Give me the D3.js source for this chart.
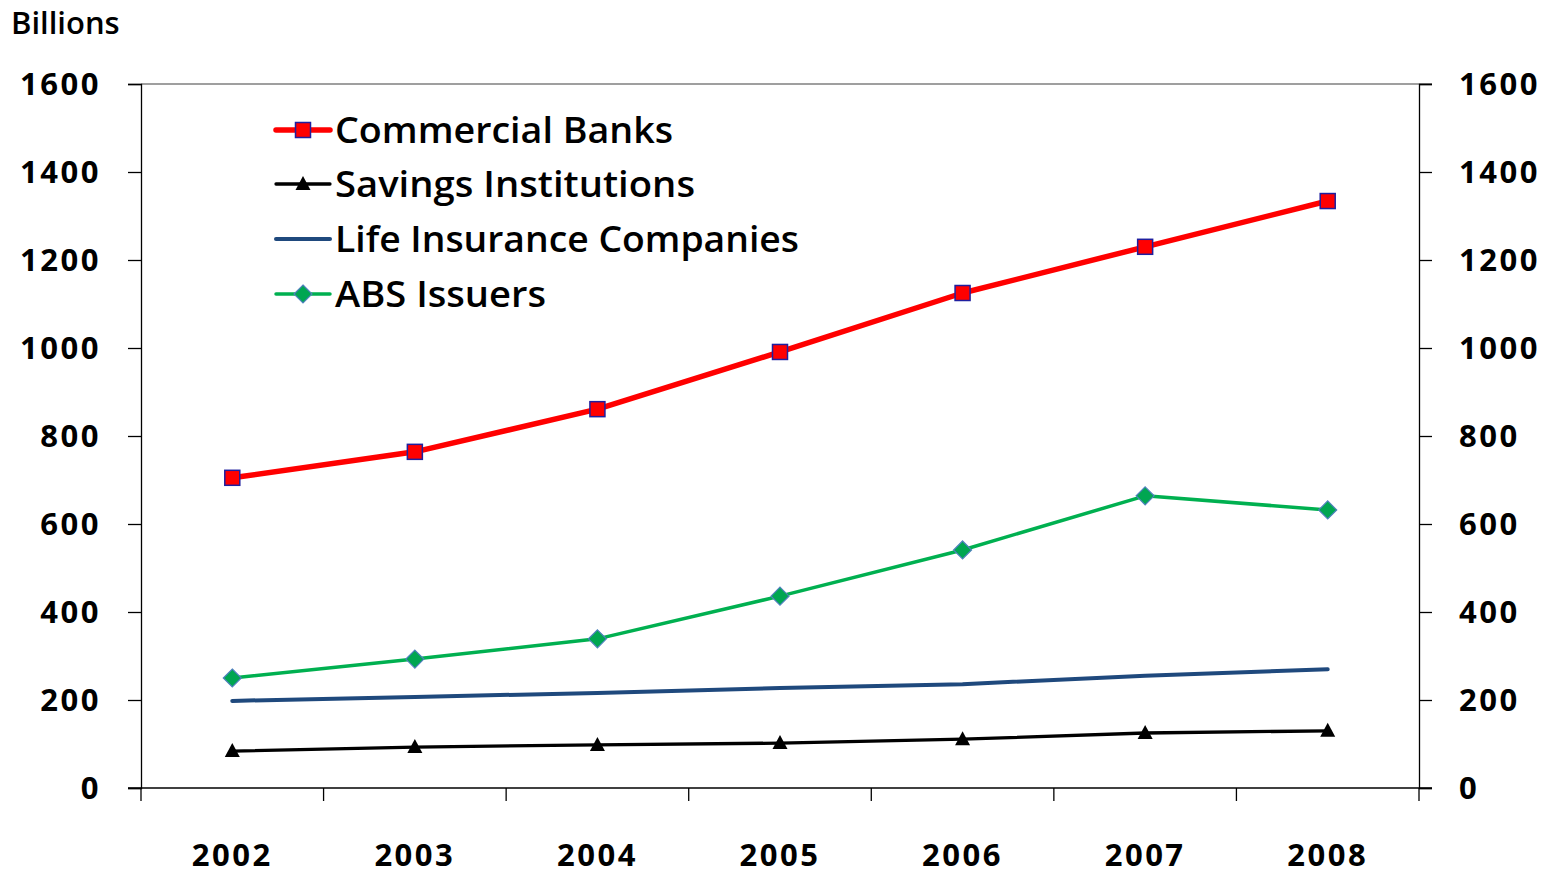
<!DOCTYPE html>
<html>
<head>
<meta charset="utf-8">
<script src="https://cdn.jsdelivr.net/npm/d3@7/dist/d3.min.js"></script>
<style>
  html, body { margin: 0; padding: 0; background: #fff; }
  svg { display: block; font-family: "Open Sans", "Lato", sans-serif; font-weight: 700; }
</style>
</head>
<body>
<svg id="chart" width="1557" height="875"></svg>
<script>
// Holdings by sector, billions of dollars
const years = ["2002", "2003", "2004", "2005", "2006", "2007", "2008"];
const commercialBanks = [705, 764, 861, 991, 1125, 1230, 1334];
const savingsInstitutions = [84, 93, 98, 102, 111, 125, 130];
const lifeInsurance = [198, 207, 216, 227, 236, 255, 270];
const absIssuers = [250, 293, 339, 436, 541, 664, 632];
const yTicks = [0, 200, 400, 600, 800, 1000, 1200, 1400, 1600];

const series = [
  { name: "Commercial Banks", values: commercialBanks, color: "#FF0000", width: 5.5,
    marker: "square", fill: "#FF0000", stroke: "#1F1F9F" },
  { name: "Savings Institutions", values: savingsInstitutions, color: "#000000", width: 3.3,
    marker: "triangle", fill: "#000000", stroke: "#000000" },
  { name: "Life Insurance Companies", values: lifeInsurance, color: "#1F497D", width: 4,
    marker: null },
  { name: "ABS Issuers", values: absIssuers, color: "#00B050", width: 3.5,
    marker: "diamond", fill: "#00A651", stroke: "#4F81BD" }
];

const svg = d3.select("#chart");
const plotL = 141, plotR = 1419, plotT = 84, plotB = 788;

const x = d3.scaleBand().domain(years).range([plotL, plotR]);
const y = d3.scaleLinear().domain([0, 1600]).range([plotB, plotT]);

const tickFont = 31;

// Top frame line
svg.append("line")
  .attr("x1", plotL).attr("x2", plotR + 13)
  .attr("y1", plotT).attr("y2", plotT)
  .attr("stroke", "#7f7f7f").attr("stroke-width", 1.3);

// Left axis
const gl = svg.append("g").attr("transform", `translate(${plotL},0)`)
  .call(d3.axisLeft(y).tickValues(yTicks).tickSize(13).tickPadding(27).tickFormat(d3.format("d")));
// Right axis
const gr = svg.append("g").attr("transform", `translate(${plotR},0)`)
  .call(d3.axisRight(y).tickValues(yTicks).tickSize(13).tickPadding(27).tickFormat(d3.format("d")));

[gl, gr].forEach(g => {
  g.select(".domain").attr("stroke", "#000").attr("stroke-width", 1.3);
  g.selectAll(".tick line").attr("stroke", "#000").attr("stroke-width", 1.3);
  g.selectAll(".tick text")
    .attr("font-size", tickFont).attr("font-weight", 700)
    .attr("font-family", "'Open Sans', sans-serif")
    .attr("fill", "#000").attr("letter-spacing", 2.5)
    .attr("dy", "0.34em");
});

// Bottom axis: ticks at band boundaries, labels at band centers
const gb = svg.append("g").attr("transform", `translate(0,${plotB})`);
gb.append("line").attr("x1", plotL - 13).attr("x2", plotR + 13)
  .attr("y1", 0).attr("y2", 0).attr("stroke", "#000").attr("stroke-width", 1.3);
const boundaries = years.map(d => x(d)).concat([plotR]);
gb.selectAll("line.tk").data(boundaries).enter().append("line")
  .attr("class", "tk")
  .attr("x1", d => d).attr("x2", d => d)
  .attr("y1", 0).attr("y2", 13)
  .attr("stroke", "#000").attr("stroke-width", 1.3);
gb.selectAll("text").data(years).enter().append("text")
  .attr("x", d => x(d) + x.bandwidth() / 2)
  .attr("y", 78)
  .attr("text-anchor", "middle")
  .attr("font-size", tickFont).attr("letter-spacing", 2.5)
  .attr("fill", "#000")
  .text(d => d);

// Unit label
svg.append("text").attr("x", 11).attr("y", 34)
  .attr("font-size", 31).attr("font-weight", 600).attr("fill", "#000")
  .text("Billions");

const cx = d => x(d) + x.bandwidth() / 2;

function drawMarker(g, type, px, py, s) {
  if (type === "square") {
    g.append("rect").attr("x", px - 7.5).attr("y", py - 7.5).attr("width", 15).attr("height", 15)
      .attr("fill", s.fill).attr("stroke", s.stroke).attr("stroke-width", 1.5);
  } else if (type === "triangle") {
    g.append("path").attr("d", `M${px},${py - 8}L${px + 7.5},${py + 6}L${px - 7.5},${py + 6}Z`)
      .attr("fill", s.fill);
  } else if (type === "diamond") {
    g.append("path").attr("d", `M${px},${py - 9}L${px + 9},${py}L${px},${py + 9}L${px - 9},${py}Z`)
      .attr("fill", s.fill).attr("stroke", s.stroke).attr("stroke-width", 1.2);
  }
}

// Lines and markers
const line = d3.line().x((d, i) => cx(years[i])).y(d => y(d));
const order = [2, 0, 1, 3];
order.forEach(k => {
  const s = series[k];
  const g = svg.append("g");
  g.append("path").datum(s.values)
    .attr("d", line).attr("fill", "none")
    .attr("stroke", s.color).attr("stroke-width", s.width)
    .attr("stroke-linecap", "round").attr("stroke-linejoin", "round");
  if (s.marker) {
    s.values.forEach((v, i) => drawMarker(g, s.marker, cx(years[i]), y(v), s));
  }
});

// Legend
const legendY = [130, 184, 239, 294];
const legendW = [338, 360, 464, 211];
series.forEach((s, i) => {
  const g = svg.append("g");
  const ly = legendY[i];
  g.append("line").attr("x1", 276).attr("x2", 330).attr("y1", ly).attr("y2", ly)
    .attr("stroke", s.color).attr("stroke-width", s.width).attr("stroke-linecap", "round");
  if (s.marker) drawMarker(g, s.marker, 303, ly, s);
  g.append("text").attr("x", 335).attr("y", ly + 13)
    .attr("font-size", 36).attr("font-weight", 600).attr("fill", "#000")
    .attr("textLength", legendW[i]).attr("lengthAdjust", "spacingAndGlyphs")
    .text(s.name);
});
</script>
</body>
</html>
